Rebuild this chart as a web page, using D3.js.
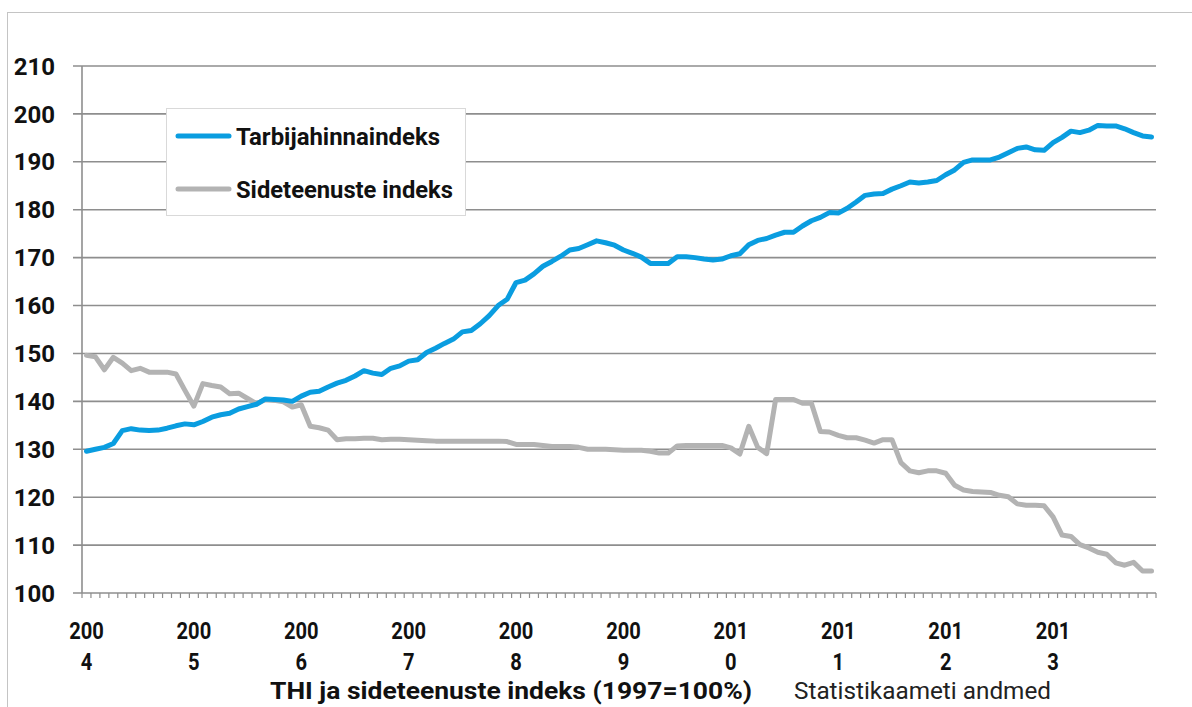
<!DOCTYPE html>
<html>
<head>
<meta charset="utf-8">
<script src="https://cdn.jsdelivr.net/npm/d3@7/dist/d3.min.js"></script>
<style>
  body { margin: 0; background: #fff; }
  svg { display: block; }
</style>
</head>
<body>
<div id="chart"></div>
<script>
// years shown on the x axis (monthly data Jan 2004 .. Dec 2013)
var years = ["2004", "2005", "2006", "2007", "2008", "2009", "2010", "2011", "2012", "2013"]

// Tarbijahinnaindeks, monthly
var thi = [
  129.6, 130.0, 130.4, 131.2, 133.9, 134.3, 134.0, 133.9, 134.0, 134.4, 134.9, 135.3,
  135.1, 135.8, 136.7, 137.2, 137.5, 138.4, 138.9, 139.4, 140.5, 140.4, 140.3, 140.0,
  141.1, 141.9, 142.1, 143.0, 143.8, 144.4, 145.3, 146.4, 145.9, 145.6, 146.9, 147.4,
  148.4, 148.7, 150.2, 151.1, 152.1, 153.0, 154.5, 154.8, 156.2, 157.9, 160.0, 161.3,
  164.8, 165.3, 166.6, 168.2, 169.2, 170.3, 171.6, 171.9, 172.7, 173.5, 173.1, 172.6,
  171.6, 170.9, 170.1, 168.8, 168.8, 168.8, 170.2, 170.2, 170.0, 169.7, 169.5, 169.7,
  170.4, 170.8, 172.7, 173.6, 174.0, 174.7, 175.3, 175.3, 176.6, 177.7, 178.4, 179.4,
  179.3, 180.3, 181.6, 183.0, 183.3, 183.4, 184.3, 185.0, 185.8, 185.6, 185.8, 186.1,
  187.3, 188.3, 189.9, 190.4, 190.4, 190.4, 191.0, 191.9, 192.8, 193.1, 192.5, 192.4,
  194.0, 195.1, 196.4, 196.1, 196.6, 197.6, 197.5, 197.5, 196.9, 196.1, 195.4, 195.2
]

// Sideteenuste indeks, monthly
var side = [
  149.6, 149.3, 146.6, 149.2, 148.0, 146.4, 146.9, 146.1, 146.1, 146.1, 145.7, 142.3,
  139.0, 143.7, 143.3, 143.0, 141.6, 141.7, 140.6, 139.5, 140.4, 140.2, 139.9, 138.8,
  139.3, 134.8, 134.5, 134.0, 132.0, 132.2, 132.2, 132.3, 132.3, 132.0, 132.1, 132.1,
  132.0, 131.9, 131.8, 131.7, 131.7, 131.7, 131.7, 131.7, 131.7, 131.7, 131.7, 131.6,
  131.0, 131.0, 131.0, 130.8, 130.6, 130.6, 130.6, 130.4, 130.0, 130.0, 130.0, 129.9,
  129.8, 129.8, 129.8, 129.6, 129.2, 129.2, 130.7, 130.8, 130.8, 130.8, 130.8, 130.8,
  130.3, 129.0, 134.8, 130.4, 129.1, 140.4, 140.4, 140.4, 139.6, 139.6, 133.7, 133.6,
  132.9, 132.4, 132.4, 131.9, 131.3, 132.0, 132.0, 127.2, 125.5, 125.1, 125.5, 125.5,
  125.0, 122.5, 121.5, 121.2, 121.1, 121.0, 120.4, 120.1, 118.6, 118.3, 118.3, 118.2,
  115.9, 112.1, 111.8, 110.1, 109.4, 108.5, 108.1, 106.3, 105.8, 106.4, 104.6, 104.6
]

var yTicks = [100, 110, 120, 130, 140, 150, 160, 170, 180, 190, 200, 210]

var seriesNames = ["Tarbijahinnaindeks", "Sideteenuste indeks"]
var title = "THI ja sideteenuste indeks (1997=100%)"
var source = "Statistikaameti andmed"

var W = 1192, H = 707
var margin = {top: 66, right: 36, bottom: 114, left: 82}
var blue = "#0a9de0", gray = "#b3b3b3", gridCol = "#8e8e8e"

var months = d3.range(years.length * 12)

var x = d3.scaleBand()
    .domain(months)
    .range([margin.left, W - margin.right])

var y = d3.scaleLinear()
    .domain([100, 210])
    .range([H - margin.bottom, margin.top])

var cx = i => x(i) + x.bandwidth() / 2

var svg = d3.select("#chart")
    .append("svg")
        .attr("width", W)
        .attr("height", H)
        .style("font-family", "Roboto, 'Noto Sans', sans-serif")

// outer frame
svg.append("rect")
    .attr("x", 7.5).attr("y", 12.5)
    .attr("width", W + 10).attr("height", H + 10)
    .attr("fill", "none")
    .attr("stroke", "#c4c4c4")

// gridlines + y labels
svg.append("g")
    .selectAll("line")
    .data(yTicks)
    .join("line")
        .attr("x1", margin.left - 9)
        .attr("x2", W - margin.right)
        .attr("y1", d => y(d))
        .attr("y2", d => y(d))
        .attr("stroke", gridCol)
        .attr("stroke-width", 1.6)

svg.append("g")
    .selectAll("text")
    .data(yTicks)
    .join("text")
        .attr("x", 55)
        .attr("y", d => y(d))
        .attr("dy", "0.36em")
        .attr("text-anchor", "end")
        .attr("font-size", 24)
        .attr("font-weight", "bold")
        .attr("fill", "#111")
        .text(d => d)

// y axis line
svg.append("line")
    .attr("x1", margin.left).attr("x2", margin.left)
    .attr("y1", y(210)).attr("y2", y(100))
    .attr("stroke", gridCol)
    .attr("stroke-width", 1.6)

// month ticks under the axis
var edges = months.map(i => x(i)).concat([x.range()[1]])
svg.append("g")
    .selectAll("line")
    .data(edges)
    .join("line")
        .attr("x1", d => d).attr("x2", d => d)
        .attr("y1", y(100)).attr("y2", y(100) + 5)
        .attr("stroke", gridCol)
        .attr("stroke-width", 1.2)

// year labels, wrapped like the original ("200" / "4")
var yl = svg.append("g")
    .selectAll("g")
    .data(years)
    .join("g")
        .attr("transform", (d, k) => "translate(" + cx(k * 12) + ",0) scale(0.84,1)")
        .attr("font-size", 24)
        .attr("font-weight", "bold")
        .attr("fill", "#111")
        .attr("text-anchor", "middle")
yl.append("text").attr("y", 639).text(d => d.slice(0, 3))
yl.append("text").attr("y", 670).text(d => d.slice(3))

// series lines
var line = d3.line()
    .x((d, i) => cx(i))
    .y(d => y(d))

;[[side, gray], [thi, blue]].forEach(function (s) {
    svg.append("path")
        .datum(s[0])
        .attr("fill", "none")
        .attr("stroke", s[1])
        .attr("stroke-width", 5)
        .attr("stroke-linejoin", "round")
        .attr("stroke-linecap", "round")
        .attr("d", line)
})

// legend
var lg = svg.append("g")
lg.append("rect")
    .attr("x", 166.5).attr("y", 108.5)
    .attr("width", 299).attr("height", 107)
    .attr("fill", "#fff")
    .attr("stroke", "#d9d9d9")
var legendRows = [
    {name: seriesNames[0], color: blue, y: 136, len: 204},
    {name: seriesNames[1], color: gray, y: 189, len: 217}
]
legendRows.forEach(function (r) {
    lg.append("line")
        .attr("x1", 178).attr("x2", 229)
        .attr("y1", r.y).attr("y2", r.y)
        .attr("stroke", r.color)
        .attr("stroke-width", 5)
        .attr("stroke-linecap", "round")
    lg.append("text")
        .attr("x", 236).attr("y", r.y + 8.5)
        .attr("font-size", 24)
        .attr("font-weight", "bold")
        .attr("fill", "#111")
        .attr("textLength", r.len)
        .attr("lengthAdjust", "spacingAndGlyphs")
        .text(r.name)
})

// bottom title and source
svg.append("text")
    .attr("x", 270).attr("y", 699)
    .attr("font-size", 24)
    .attr("font-weight", "bold")
    .attr("fill", "#111")
    .attr("textLength", 482)
    .attr("lengthAdjust", "spacingAndGlyphs")
    .text(title)

svg.append("text")
    .attr("x", 794).attr("y", 699)
    .attr("font-size", 23)
    .attr("fill", "#222")
    .attr("textLength", 257)
    .attr("lengthAdjust", "spacingAndGlyphs")
    .text(source)
</script>
</body>
</html>
